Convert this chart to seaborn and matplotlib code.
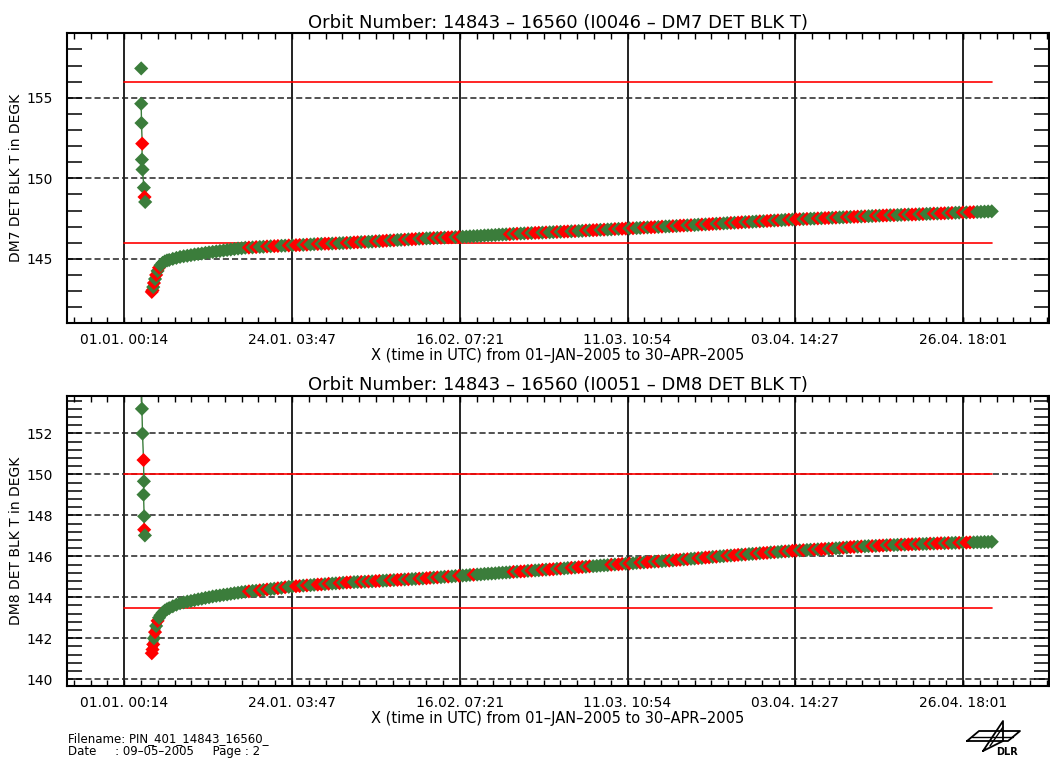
import numpy as np
import pandas as pd
import matplotlib
matplotlib.use("Agg")
import matplotlib.pyplot as plt
import matplotlib.dates as mdates
from matplotlib.ticker import AutoMinorLocator, MultipleLocator, FixedLocator
import seaborn as sns

sns.set_style("white")
plt.rcParams["font.family"] = ["DejaVu Sans"]
plt.rcParams.update({"text.color": "black", "axes.labelcolor": "black",
                     "xtick.color": "black", "ytick.color": "black"})

GREEN = "#3b7d3b"
RED = "#ff0000"

# ---------------------------------------------------------------- time axis
epoch = pd.Timestamp("2005-01-01 00:14")
tick_times = ["2005-01-01 00:14", "2005-01-24 03:47", "2005-02-16 07:21",
              "2005-03-11 10:54", "2005-04-03 14:27", "2005-04-26 18:01"]
view_days = [-7.94, 127.6]          # axis range, days from epoch
limit_days = [0.0, 119.7]           # span of the limit lines

# ---------------------------------------------------------------- limits
dm7_limits = [146.0, 156.0]
dm8_limits = [143.5, 150.0]

# ---------------------------------------------------------------- DM7 (I0046)
burst_days_dm7 = [2.34, 2.34, 2.38, 2.48, 2.44, 2.52, 2.71, 2.80, 2.89]
burst_dm7 = [156.82, 154.63, 153.43, 152.15, 151.16, 150.54, 149.42, 148.84, 148.53]
burst_flag_dm7 = [0, 0, 0, 1, 0, 0, 0, 1, 0]

rise_days = [3.8, 3.9, 4.0, 4.1, 4.25, 4.4, 4.6, 4.8, 5.0, 5.3, 5.6, 5.9]
rise_dm7 = [142.95, 143.05, 143.25, 143.5, 143.75, 144.0, 144.25, 144.45,
            144.6, 144.75, 144.84, 144.9]
rise_flag_dm7 = [1, 1, 0, 1, 0, 1, 0, 1, 0, 0, 0, 0]

# half-day samples from day 6.2 onwards
trend_first_day = 6.2
trend_step_days = 0.5
trend_dm7 = [
    144.93, 145.00, 145.06, 145.12, 145.16, 145.19, 145.23, 145.27, 145.30, 145.33,
    145.37, 145.40, 145.43, 145.46, 145.49, 145.52, 145.55, 145.58, 145.61, 145.64,
    145.66, 145.69, 145.70, 145.71, 145.73, 145.74, 145.75, 145.77, 145.78, 145.79,
    145.80, 145.81, 145.82, 145.83, 145.84, 145.85, 145.86, 145.87, 145.88, 145.89,
    145.91, 145.92, 145.93, 145.94, 145.94, 145.95, 145.96, 145.97, 145.98, 145.99,
    146.00, 146.02, 146.03, 146.04, 146.05, 146.06, 146.07, 146.09, 146.10, 146.11,
    146.13, 146.14, 146.15, 146.17, 146.18, 146.19, 146.21, 146.22, 146.23, 146.25,
    146.26, 146.27, 146.28, 146.29, 146.30, 146.31, 146.32, 146.33, 146.34, 146.35,
    146.36, 146.37, 146.38, 146.40, 146.41, 146.42, 146.43, 146.45, 146.46, 146.47,
    146.48, 146.50, 146.51, 146.52, 146.53, 146.55, 146.56, 146.57, 146.58, 146.59,
    146.60, 146.61, 146.62, 146.63, 146.64, 146.65, 146.66, 146.67, 146.68, 146.69,
    146.70, 146.71, 146.72, 146.73, 146.74, 146.76, 146.77, 146.78, 146.79, 146.80,
    146.81, 146.82, 146.83, 146.85, 146.86, 146.87, 146.88, 146.89, 146.90, 146.91,
    146.92, 146.94, 146.95, 146.96, 146.97, 146.98, 147.00, 147.01, 147.02, 147.03,
    147.04, 147.06, 147.07, 147.08, 147.09, 147.10, 147.12, 147.13, 147.14, 147.15,
    147.17, 147.18, 147.19, 147.20, 147.22, 147.23, 147.24, 147.25, 147.27, 147.28,
    147.29, 147.30, 147.32, 147.33, 147.34, 147.35, 147.37, 147.38, 147.39, 147.40,
    147.42, 147.43, 147.44, 147.45, 147.46, 147.47, 147.48, 147.49, 147.50, 147.51,
    147.52, 147.53, 147.54, 147.55, 147.56, 147.57, 147.58, 147.59, 147.60, 147.61,
    147.62, 147.63, 147.64, 147.65, 147.66, 147.67, 147.68, 147.69, 147.70, 147.71,
    147.71, 147.72, 147.73, 147.74, 147.75, 147.75, 147.76, 147.77, 147.78, 147.79,
    147.80, 147.81, 147.81, 147.82, 147.83, 147.84, 147.85, 147.86, 147.87, 147.88,
    147.88, 147.89, 147.90, 147.91, 147.92, 147.93, 147.94, 147.95,
]
trend_flag_dm7 = [int(c) for c in (
    "0000000000" "0000000000" "0010100101" "1001011010" "0101101001"
    "0110100101" "1010010110" "1001010110" "1000000000" "0000101001"
    "0110100101" "1010010110" "1001011010" "0101101001" "0110100101"
    "1010010110" "1001011010" "0101101001" "0110100101" "1010010110"
    "1001011010" "0101101001" "01100000")]

# ---------------------------------------------------------------- DM8 (I0051)
burst_days_dm8 = [2.30, 2.44, 2.52, 2.66, 2.71, 2.66, 2.75, 2.75, 2.85]
burst_dm8 = [154.60, 153.20, 151.99, 150.70, 149.66, 149.01, 147.95, 147.30, 147.02]
burst_flag_dm8 = [0, 0, 0, 1, 0, 0, 0, 1, 0]

rise_dm8 = [141.27, 141.45, 141.7, 142.0, 142.3, 142.6, 142.85, 143.0,
            143.12, 143.25, 143.35, 143.42]
rise_flag_dm8 = [1, 1, 1, 0, 1, 0, 1, 0, 0, 0, 0, 0]

trend_dm8 = [
    143.47, 143.56, 143.64, 143.71, 143.75, 143.79, 143.82, 143.86, 143.90, 143.93,
    143.97, 144.00, 144.04, 144.07, 144.09, 144.12, 144.14, 144.17, 144.20, 144.22,
    144.25, 144.27, 144.29, 144.31, 144.32, 144.34, 144.36, 144.38, 144.40, 144.42,
    144.44, 144.46, 144.49, 144.51, 144.53, 144.54, 144.55, 144.57, 144.58, 144.59,
    144.61, 144.62, 144.63, 144.64, 144.66, 144.67, 144.68, 144.69, 144.71, 144.72,
    144.73, 144.74, 144.75, 144.75, 144.76, 144.77, 144.78, 144.79, 144.80, 144.81,
    144.82, 144.83, 144.84, 144.85, 144.86, 144.87, 144.88, 144.89, 144.90, 144.91,
    144.92, 144.93, 144.95, 144.96, 144.97, 144.98, 145.00, 145.01, 145.02, 145.04,
    145.05, 145.06, 145.07, 145.09, 145.10, 145.11, 145.12, 145.14, 145.15, 145.16,
    145.17, 145.19, 145.20, 145.21, 145.22, 145.24, 145.25, 145.26, 145.27, 145.29,
    145.30, 145.31, 145.32, 145.34, 145.35, 145.36, 145.37, 145.39, 145.40, 145.41,
    145.43, 145.44, 145.45, 145.47, 145.48, 145.49, 145.51, 145.52, 145.53, 145.55,
    145.56, 145.57, 145.59, 145.60, 145.61, 145.63, 145.64, 145.65, 145.66, 145.68,
    145.69, 145.70, 145.71, 145.73, 145.74, 145.75, 145.76, 145.78, 145.79, 145.80,
    145.82, 145.83, 145.85, 145.86, 145.88, 145.89, 145.91, 145.92, 145.94, 145.95,
    145.97, 145.98, 146.00, 146.01, 146.03, 146.04, 146.05, 146.07, 146.08, 146.09,
    146.11, 146.12, 146.13, 146.15, 146.16, 146.17, 146.19, 146.20, 146.21, 146.23,
    146.24, 146.25, 146.27, 146.28, 146.29, 146.30, 146.31, 146.32, 146.33, 146.34,
    146.35, 146.36, 146.37, 146.38, 146.39, 146.40, 146.42, 146.43, 146.45, 146.46,
    146.47, 146.48, 146.49, 146.50, 146.50, 146.51, 146.52, 146.53, 146.54, 146.55,
    146.55, 146.56, 146.57, 146.57, 146.58, 146.59, 146.59, 146.60, 146.60, 146.61,
    146.62, 146.62, 146.63, 146.64, 146.64, 146.65, 146.65, 146.66, 146.66, 146.67,
    146.67, 146.68, 146.68, 146.69, 146.69, 146.70, 146.70, 146.71,
]
trend_flag_dm8 = [int(c) for c in (
    "0000000000" "0000000000" "0010010100" "1010011010" "0110100101"
    "1001010110" "0101101001" "0110100100" "1000100000" "0000010110"
    "1001011010" "0101101000" "0010110100" "1011010010" "1101001011"
    "0100101101" "0010110100" "1011010010" "1101001011" "0100101101"
    "0010110100" "1011010010" "11000000")]

# ---------------------------------------------------------------- text
titles = ["Orbit Number: 14843 \u2013 16560 (I0046 \u2013 DM7 DET BLK T)",
          "Orbit Number: 14843 \u2013 16560 (I0051 \u2013 DM8 DET BLK T)"]
ylabels = ["DM7 DET BLK T in DEGK", "DM8 DET BLK T in DEGK"]
xlabel = "X (time in UTC) from 01\u2013JAN\u20132005 to 30\u2013APR\u20132005"


def to_time(days):
    return epoch + pd.to_timedelta(np.asarray(days, dtype=float), unit="D")


def draw_panel(ax, burst_d, burst_v, burst_f, line_from, rise_v, rise_f, trend_v,
               trend_f, limits, ylim, ymajor, yminor, title, ylabel):
    trend_d = trend_first_day + trend_step_days * np.arange(len(trend_v))
    band_d = np.concatenate([rise_days, trend_d])
    band_v = np.concatenate([rise_v, trend_v])

    # limit lines
    for lim in limits:
        sns.lineplot(x=to_time(limit_days), y=[lim, lim], color=RED, linewidth=1.2,
                     estimator=None, sort=False, ax=ax, zorder=2)

    # connecting lines
    sns.lineplot(x=to_time(burst_d[line_from:]), y=burst_v[line_from:], color=GREEN,
                 linewidth=1.0, estimator=None, sort=False, ax=ax, zorder=2.5)
    sns.lineplot(x=to_time(band_d), y=band_v, color=GREEN, linewidth=7.0,
                 estimator=None, sort=False, ax=ax, zorder=2.5,
                 solid_capstyle="butt")

    # samples, drawn in time order
    all_d = np.concatenate([burst_d, band_d])
    all_v = np.concatenate([burst_v, band_v])
    all_f = np.concatenate([burst_f, rise_f, trend_f])
    state = np.where(all_f == 1, "flag", "ok")
    sns.scatterplot(x=to_time(all_d), y=all_v, hue=state,
                    palette={"ok": GREEN, "flag": RED}, marker="D", s=52,
                    linewidth=0, legend=False, ax=ax, zorder=3)

    ax.set_xlim(to_time(view_days[0]), to_time(view_days[1]))
    ax.set_ylim(*ylim)
    ax.xaxis.set_major_locator(FixedLocator(mdates.date2num(pd.to_datetime(tick_times))))
    ax.xaxis.set_major_formatter(mdates.DateFormatter("%d.%m. %H:%M"))
    ax.xaxis.set_minor_locator(AutoMinorLocator(10))
    ax.yaxis.set_major_locator(MultipleLocator(ymajor))
    ax.yaxis.set_minor_locator(MultipleLocator(yminor))

    ax.set_axisbelow(True)
    ax.xaxis.grid(True, which="major", color="#222222", linewidth=1.4, linestyle="-")
    ax.yaxis.grid(True, which="major", color="#222222", linewidth=1.1,
                  linestyle=(0, (4, 2)))
    ax.xaxis.grid(False, which="minor")
    ax.yaxis.grid(False, which="minor")

    ax.tick_params(axis="y", which="both", direction="in", left=True, right=True,
                   length=11, width=1.1, color="black", labelsize=10, pad=10)
    ax.tick_params(axis="x", which="both", direction="in", bottom=True, top=True,
                   length=4, width=1.0, color="black", labelsize=10, pad=7)
    for sp in ax.spines.values():
        sp.set_color("black")
        sp.set_linewidth(1.5)

    ax.set_title(title, fontsize=13, pad=4)
    ax.set_xlabel(xlabel, fontsize=10.5, labelpad=1)
    ax.set_ylabel(ylabel, fontsize=10)
    ax.yaxis.set_label_coords(-0.044, 0.5)


fig = plt.figure(figsize=(10.5, 7.64), dpi=100)
W, H = 1050.0, 764.0
x0, x1 = 66.7, 1049.0
ax_top = fig.add_axes([x0 / W, 1 - 323.3 / H, (x1 - x0) / W, (323.3 - 33.3) / H])
ax_bot = fig.add_axes([x0 / W, 1 - 686.0 / H, (x1 - x0) / W, (686.0 - 395.7) / H])

draw_panel(ax_top, burst_days_dm7, burst_dm7, burst_flag_dm7, 1, rise_dm7,
           rise_flag_dm7, trend_dm7, trend_flag_dm7, dm7_limits, (141.0, 159.0),
           5, 1, titles[0], ylabels[0])
draw_panel(ax_bot, burst_days_dm8, burst_dm8, burst_flag_dm8, 0, rise_dm8,
           rise_flag_dm8, trend_dm8, trend_flag_dm8, dm8_limits, (139.67, 153.84),
           2, 0.4, titles[1], ylabels[1])

# page footer
fig.text(68 / W, 1 - 739 / H, "Filename: PIN_401_14843_16560_", fontsize=8.5,
         va="center", ha="left")
fig.text(68 / W, 1 - 752 / H, "Date     : 09\u201305\u20132005     Page : 2",
         fontsize=8.5, va="center", ha="left")

# DLR emblem
logo = fig.add_axes([960 / W, 1 - 760 / H, 65 / W, 45 / H])
logo.set_xlim(960, 1025)
logo.set_ylim(760, 715)
logo.axis("off")
logo.plot([967, 979, 1020, 1008, 967], [741, 731, 731, 741, 741], color="black", lw=1.3)
logo.plot([972, 1013], [737, 737], color="black", lw=1.0)
logo.plot([983, 1003, 1003, 983], [751, 721, 741, 751], color="black", lw=1.3)
logo.plot([990, 1003], [746, 727], color="black", lw=1.0)
logo.text(996, 752, "DLR", fontsize=7, fontweight="bold", va="center", ha="left")

fig.savefig("out.png", dpi=100)
